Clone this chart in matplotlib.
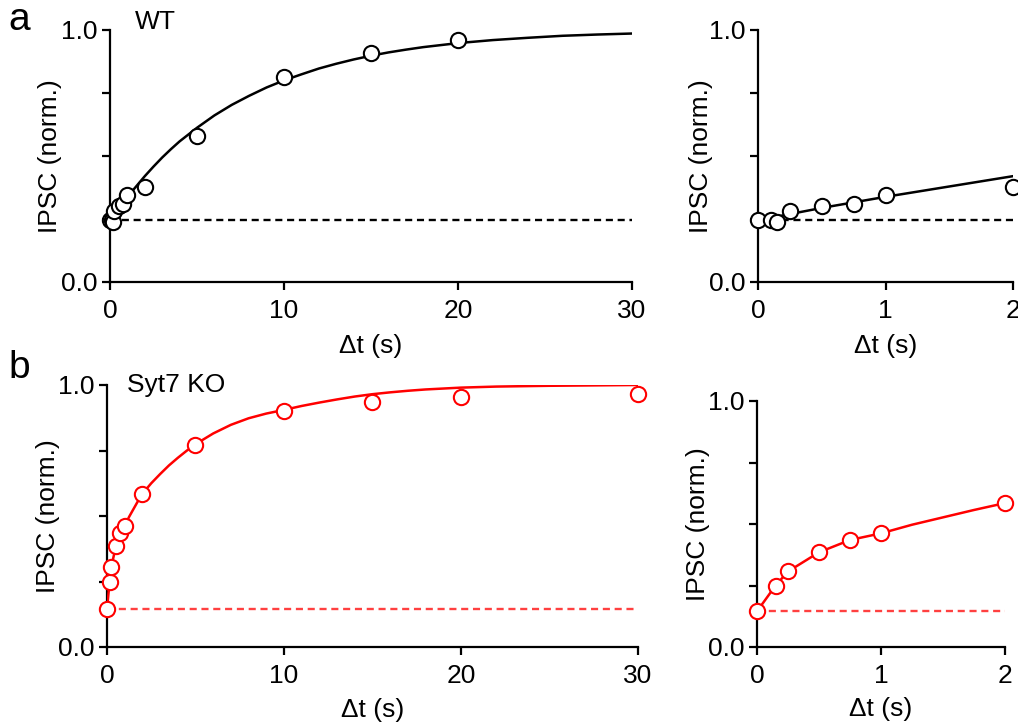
import numpy as np
import matplotlib
matplotlib.use("Agg")
import matplotlib.pyplot as plt

plt.rcParams.update({
    "font.family": ["Liberation Sans", "DejaVu Sans"],
    "font.size": 19,
    "axes.linewidth": 1.6,
    "xtick.major.width": 1.6,
    "ytick.major.width": 1.6,
    "xtick.major.size": 6,
    "ytick.major.size": 6,
    "xtick.direction": "out",
    "ytick.direction": "out",
})

# ---------- data ----------
# WT
wt_t = [0, 0.1, 0.15, 0.25, 0.5, 0.75, 1, 2, 5, 10, 15, 20]
wt_y = [0.245, 0.245, 0.24, 0.28, 0.30, 0.31, 0.345, 0.375, 0.58, 0.815, 0.91, 0.96]
wt_err = [0.01, 0.01, 0.02, 0.012, 0.03, 0.02, 0.02, 0.025, 0.03, 0.01, 0.01, 0.01]
wt_fit_t = [0, 0.5, 1, 1.5, 2, 2.5, 3, 3.5, 4, 5, 6, 7, 8, 9, 10, 11, 12, 13, 14,
            15, 16, 17, 18, 20, 22, 24, 26, 28, 30]
wt_fit_y = [0.245, 0.294, 0.338, 0.379, 0.420, 0.458, 0.494, 0.527, 0.558, 0.612,
            0.661, 0.703, 0.739, 0.772, 0.800, 0.824, 0.847, 0.866, 0.883, 0.898,
            0.911, 0.922, 0.932, 0.948, 0.960, 0.969, 0.977, 0.982, 0.986]
wt_base = 0.245

# Syt7 KO
ko_t = [0, 0.15, 0.25, 0.5, 0.75, 1, 2, 5, 10, 15, 20, 30]
ko_y = [0.145, 0.25, 0.307, 0.385, 0.435, 0.462, 0.585, 0.77, 0.90, 0.935, 0.955, 0.965]
ko_fit_t = [0, 0.15, 0.25, 0.5, 0.75, 1, 1.25, 1.5, 1.75, 2, 2.5, 3, 3.5, 4, 4.5, 5,
            6, 7, 8, 9, 10, 11, 12, 13, 14, 15, 16, 17, 18, 20, 22, 25, 30]
ko_fit_y = [0.145, 0.25, 0.307, 0.385, 0.435, 0.462, 0.497, 0.527, 0.557, 0.585,
            0.625, 0.660, 0.693, 0.722, 0.749, 0.774, 0.815, 0.848, 0.873, 0.891,
            0.905, 0.920, 0.933, 0.945, 0.956, 0.965, 0.972, 0.978, 0.983, 0.990,
            0.994, 0.997, 1.0]
ko_base = 0.145

W, H = 1018, 727


def px_axes(x0, x1, y_top, y_bot):
    return fig.add_axes([x0 / W, (H - y_bot) / H, (x1 - x0) / W, (y_bot - y_top) / H])


def style(ax, xmax, xticks, ylab_x, xlab_y):
    ax.set_xlim(0, xmax)
    ax.set_ylim(0, 1)
    ax.spines["top"].set_visible(False)
    ax.spines["right"].set_visible(False)
    ax.set_xticks(xticks)
    ax.set_xticklabels([str(v) for v in xticks])
    ax.set_yticks([0, 0.25, 0.5, 0.75, 1.0])
    ax.set_yticklabels(["0.0", "", "", "", "1.0"])
    ax.tick_params(axis="x", pad=6)
    ax.tick_params(axis="y", pad=3)
    ax.set_xlabel("\u0394t (s)")
    ax.set_ylabel("IPSC (norm.)")
    ax.yaxis.set_label_coords(ylab_x, 0.5)
    ax.xaxis.set_label_coords(0.5, xlab_y)


fig = plt.figure(figsize=(W / 100, H / 100), dpi=100)

mk = dict(marker="o", ms=11, mew=1.5, mfc="white", ls="none", clip_on=False, zorder=4)

# (a) WT, full range
ax1 = px_axes(110, 632, 30, 282)
ax1.plot([0, 30], [wt_base] * 2, color="black", ls=(0, (3, 2)), lw=1.7)
ax1.plot(wt_fit_t, wt_fit_y, color="black", lw=1.8, zorder=3)
ax1.errorbar(wt_t, wt_y, yerr=wt_err, color="black", ecolor="black", elinewidth=1.5,
             capsize=0, mec="black", **mk)
style(ax1, 30, [0, 10, 20, 30], -0.092, -0.205)
ax1.text(0.048, 1.03, "WT", transform=ax1.transAxes, fontsize=19, va="center")

# (a) WT, zoomed
ax2 = px_axes(758, 1013, 30, 282)
ax2.plot([0, 2], [wt_base] * 2, color="black", ls=(0, (3, 2)), lw=1.7)
ax2.plot([t for t in wt_fit_t if t <= 2], [y for t, y in zip(wt_fit_t, wt_fit_y) if t <= 2],
         color="black", lw=1.8, zorder=3)
sel = [i for i, t in enumerate(wt_t) if t <= 2]
ax2.errorbar([wt_t[i] for i in sel], [wt_y[i] for i in sel], yerr=[wt_err[i] for i in sel],
             color="black", ecolor="black", elinewidth=1.5, capsize=0, mec="black", **mk)
style(ax2, 2, [0, 1, 2], -0.175, -0.205)

# (b) Syt7 KO, full range
ax3 = px_axes(107, 638, 385, 647)
ax3.plot([0, 30], [ko_base] * 2, color="#ff4040", ls=(0, (3, 2)), lw=1.7)
ax3.plot(ko_fit_t, ko_fit_y, color="#ff0000", lw=1.8, zorder=3)
ax3.plot(ko_t, ko_y, mec="#ff0000", **mk)
style(ax3, 30, [0, 10, 20, 30], -0.089, -0.195)
ax3.text(0.038, 1.0, "Syt7 KO", transform=ax3.transAxes, fontsize=19, va="center")

# (b) Syt7 KO, zoomed
ax4 = px_axes(757, 1005, 401, 647)
ax4.plot([0, 2], [ko_base] * 2, color="#ff4040", ls=(0, (3, 2)), lw=1.7)
ax4.plot([t for t in ko_fit_t if t <= 2], [y for t, y in zip(ko_fit_t, ko_fit_y) if t <= 2],
         color="#ff0000", lw=1.8, zorder=3)
sel = [i for i, t in enumerate(ko_t) if t <= 2]
ax4.plot([ko_t[i] for i in sel], [ko_y[i] for i in sel], mec="#ff0000", **mk)
style(ax4, 2, [0, 1, 2], -0.19, -0.205)

fig.text(8 / W, 1 - 20 / H, "a", fontsize=28, va="center")
fig.text(8 / W, 1 - 368 / H, "b", fontsize=28, va="center")

fig.savefig("out.png", dpi=100)
